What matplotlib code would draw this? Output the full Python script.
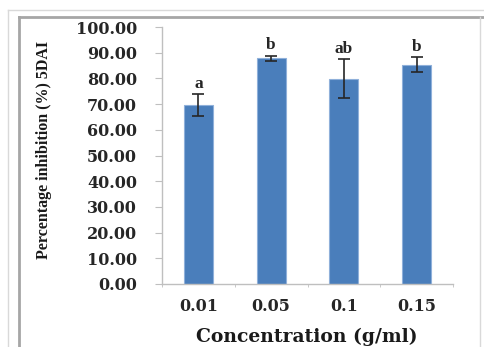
import numpy as np
import matplotlib.pyplot as plt
from matplotlib.lines import Line2D

# data
categories = ["0.01", "0.05", "0.1", "0.15"]
inhibition = [69.6, 87.9, 79.8, 85.3]
errors = [4.2, 1.0, 7.6, 3.0]
letters = ["a", "b", "ab", "b"]
yticks = [0, 10, 20, 30, 40, 50, 60, 70, 80, 90, 100]

W, H = 484, 347
fig = plt.figure(figsize=(W / 100, H / 100), dpi=100)

def fx(px):
    return px / W

def fy(py):
    return 1 - py / H

# frame lines around the chart (as in the pasted screenshot)
light = "#d9d9d9"
dark = "#a6a6a6"
fig.add_artist(Line2D([fx(8), fx(8)], [fy(10), 0], color=light, lw=1))
fig.add_artist(Line2D([fx(8), 1], [fy(10), fy(10)], color=light, lw=1))
fig.add_artist(Line2D([fx(19), fx(19)], [fy(17), 0], color=dark, lw=2))
fig.add_artist(Line2D([fx(19), 1], [fy(17), fy(17)], color=dark, lw=2))
fig.add_artist(Line2D([fx(480), fx(480)], [fy(17), 0], color=light, lw=1))

ax = fig.add_axes([fx(162), fy(284), fx(453) - fx(162), fy(27) - fy(284)])

x = np.arange(len(categories))
ax.bar(x, inhibition, width=0.4, color="#4a7ebb", edgecolor="#8fb0da", linewidth=0.8, zorder=2)
ax.errorbar(x, inhibition, yerr=errors, fmt="none", ecolor="#262626",
            elinewidth=1.2, capsize=4.5, capthick=1.2, zorder=3)

for xi, v, e, lab in zip(x, inhibition, errors, letters):
    ax.annotate(lab, (xi, v + e), xytext=(0, 1.5), textcoords="offset points",
                ha="center", va="bottom", fontsize=12.5, family="Liberation Serif",
                fontweight="bold", color="#262626")

ax.set_xlim(-0.5, len(categories) - 0.5)
ax.set_ylim(0, 100)
ax.set_yticks(yticks)
ax.set_yticklabels([f"{t:.2f}" for t in yticks], family="DejaVu Serif",
                   fontweight="bold", fontsize=11.5, color="#262626")
ax.set_xticks(x)
ax.set_xticklabels(categories, family="DejaVu Serif", fontweight="bold",
                   fontsize=11.5, color="#262626")
ax.set_xticks(np.arange(-0.5, len(categories)), minor=True)

for s in ["top", "right"]:
    ax.spines[s].set_visible(False)
for s in ["left", "bottom"]:
    ax.spines[s].set_color("#bfbfbf")
    ax.spines[s].set_linewidth(1.0)

ax.tick_params(axis="y", length=5, pad=13, color="#bfbfbf")
ax.tick_params(axis="x", which="major", length=0, pad=10)
ax.tick_params(axis="x", which="minor", length=2.5, color="#bfbfbf")

fig.text(fx(44), fy(150), "Percentage inhibition (%) 5DAI", rotation=90,
         ha="center", va="center", family="Liberation Serif", fontweight="bold",
         fontsize=11.5, color="#1a1a1a")
fig.text(fx(307), fy(337), "Concentration (g/ml)", ha="center", va="center",
         family="DejaVu Serif", fontweight="bold", fontsize=13.5, color="#1a1a1a")

plt.savefig("out.png", dpi=100)
